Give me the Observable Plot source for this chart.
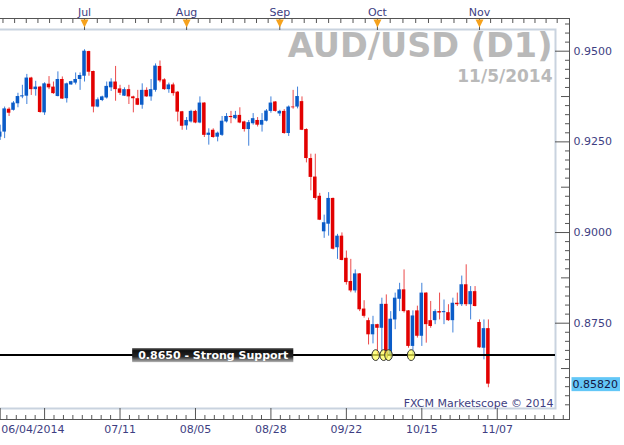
<!DOCTYPE html>
<html><head><meta charset="utf-8">
<script src="https://cdn.jsdelivr.net/npm/d3@7"></script>
<script src="https://cdn.jsdelivr.net/npm/@observablehq/plot@0.6"></script>
<style>html,body{margin:0;padding:0;background:#fff;overflow:hidden}svg{display:block}</style>
</head><body><div id="chart"></div>
<script>
// ---- data (AUD/USD daily) ----
const dates = [
"2014-06-04","2014-06-05","2014-06-06","2014-06-09","2014-06-10","2014-06-11","2014-06-12","2014-06-13","2014-06-16","2014-06-17",
"2014-06-18","2014-06-19","2014-06-20","2014-06-23","2014-06-24","2014-06-25","2014-06-26","2014-06-27","2014-06-30","2014-07-01",
"2014-07-02","2014-07-03","2014-07-04","2014-07-07","2014-07-08","2014-07-09","2014-07-10","2014-07-11","2014-07-14","2014-07-15",
"2014-07-16","2014-07-17","2014-07-18","2014-07-21","2014-07-22","2014-07-23","2014-07-24","2014-07-25","2014-07-28","2014-07-29",
"2014-07-30","2014-07-31","2014-08-01","2014-08-04","2014-08-05","2014-08-06","2014-08-07","2014-08-08","2014-08-11","2014-08-12",
"2014-08-13","2014-08-14","2014-08-15","2014-08-18","2014-08-19","2014-08-20","2014-08-21","2014-08-22","2014-08-25","2014-08-26",
"2014-08-27","2014-08-28","2014-08-29","2014-09-01","2014-09-02","2014-09-03","2014-09-04","2014-09-05","2014-09-08","2014-09-09",
"2014-09-10","2014-09-11","2014-09-12","2014-09-15","2014-09-16","2014-09-17","2014-09-18","2014-09-19","2014-09-22","2014-09-23",
"2014-09-24","2014-09-25","2014-09-26","2014-09-29","2014-09-30","2014-10-01","2014-10-02","2014-10-03","2014-10-06","2014-10-07",
"2014-10-08","2014-10-09","2014-10-10","2014-10-13","2014-10-14","2014-10-15","2014-10-16","2014-10-17","2014-10-20","2014-10-21",
"2014-10-22","2014-10-23","2014-10-24","2014-10-27","2014-10-28","2014-10-29","2014-10-30","2014-10-31","2014-11-03","2014-11-04",
"2014-11-05"];
const open = [
0.9263,0.9277,0.9340,0.9337,0.9355,0.9374,0.9376,0.9426,0.9394,0.9401,
0.9330,0.9409,0.9401,0.9375,0.9422,0.9369,0.9407,0.9412,0.9422,0.9431,
0.9499,0.9444,0.9346,0.9364,0.9371,0.9399,0.9415,0.9396,0.9376,0.9394,
0.9374,0.9369,0.9351,0.9392,0.9374,0.9392,0.9458,0.9421,0.9394,0.9407,
0.9387,0.9333,0.9294,0.9305,0.9334,0.9302,0.9357,0.9268,0.9282,0.9263,
0.9268,0.9305,0.9320,0.9314,0.9323,0.9305,0.9284,0.9300,0.9309,0.9296,
0.9307,0.9334,0.9360,0.9327,0.9334,0.9273,0.9346,0.9346,0.9361,0.9284,
0.9204,0.9153,0.9100,0.9002,0.9023,0.9094,0.8958,0.8990,0.8929,0.8865,
0.8839,0.8886,0.8789,0.8757,0.8718,0.8746,0.8736,0.8802,0.8663,0.8759,
0.8816,0.8842,0.8784,0.8686,0.8784,0.8714,0.8833,0.8757,0.8757,0.8782,
0.8779,0.8779,0.8757,0.8805,0.8801,0.8856,0.8801,0.8837,0.8752,0.8681,
0.8735];
const high = [
0.9296,0.9346,0.9344,0.9361,0.9384,0.9406,0.9436,0.9428,0.9417,0.9403,
0.9413,0.9430,0.9415,0.9443,0.9429,0.9412,0.9417,0.9440,0.9440,0.9504,
0.9500,0.9445,0.9371,0.9376,0.9415,0.9424,0.9458,0.9406,0.9399,0.9406,
0.9376,0.9392,0.9410,0.9399,0.9422,0.9465,0.9473,0.9424,0.9412,0.9412,
0.9389,0.9334,0.9317,0.9337,0.9337,0.9374,0.9358,0.9286,0.9286,0.9277,
0.9320,0.9328,0.9334,0.9334,0.9344,0.9307,0.9309,0.9328,0.9317,0.9328,
0.9339,0.9374,0.9361,0.9337,0.9339,0.9349,0.9392,0.9401,0.9374,0.9286,
0.9216,0.9216,0.9108,0.9048,0.9110,0.9095,0.8995,0.8999,0.8949,0.8926,
0.8897,0.8887,0.8812,0.8764,0.8769,0.8747,0.8819,0.8828,0.8782,0.8833,
0.8860,0.8897,0.8785,0.8784,0.8797,0.8860,0.8834,0.8810,0.8787,0.8833,
0.8814,0.8801,0.8819,0.8833,0.8880,0.8911,0.8851,0.8851,0.8759,0.8759,
0.8759];
const low = [
0.9254,0.9259,0.9320,0.9335,0.9344,0.9369,0.9353,0.9378,0.9376,0.9329,
0.9323,0.9394,0.9381,0.9374,0.9367,0.9357,0.9406,0.9407,0.9392,0.9415,
0.9431,0.9330,0.9344,0.9361,0.9368,0.9389,0.9362,0.9378,0.9375,0.9353,
0.9330,0.9350,0.9340,0.9373,0.9362,0.9387,0.9413,0.9392,0.9384,0.9376,
0.9305,0.9282,0.9282,0.9302,0.9300,0.9300,0.9262,0.9241,0.9260,0.9250,
0.9265,0.9302,0.9300,0.9311,0.9300,0.9277,0.9238,0.9296,0.9291,0.9277,
0.9305,0.9329,0.9332,0.9320,0.9271,0.9265,0.9340,0.9341,0.9281,0.9192,
0.9115,0.9089,0.9033,0.8984,0.8990,0.8952,0.8926,0.8922,0.8855,0.8834,
0.8833,0.8782,0.8764,0.8690,0.8693,0.8663,0.8668,0.8654,0.8649,0.8732,
0.8782,0.8778,0.8681,0.8663,0.8709,0.8686,0.8695,0.8736,0.8746,0.8759,
0.8746,0.8755,0.8723,0.8796,0.8796,0.8796,0.8759,0.8795,0.8681,0.8649,
0.8572];
const close = [
0.9277,0.9341,0.9329,0.9357,0.9375,0.9377,0.9426,0.9394,0.9401,0.9331,
0.9410,0.9399,0.9383,0.9422,0.9368,0.9410,0.9416,0.9422,0.9433,0.9500,
0.9442,0.9346,0.9366,0.9374,0.9403,0.9415,0.9394,0.9384,0.9394,0.9374,
0.9369,0.9351,0.9392,0.9374,0.9394,0.9459,0.9418,0.9394,0.9407,0.9383,
0.9332,0.9293,0.9309,0.9334,0.9302,0.9357,0.9268,0.9274,0.9262,0.9274,
0.9307,0.9320,0.9317,0.9323,0.9302,0.9284,0.9303,0.9314,0.9296,0.9309,
0.9335,0.9357,0.9334,0.9334,0.9273,0.9346,0.9344,0.9375,0.9282,0.9204,
0.9152,0.9094,0.9034,0.9027,0.9094,0.8954,0.8990,0.8923,0.8862,0.8839,
0.8886,0.8787,0.8769,0.8718,0.8746,0.8736,0.8802,0.8659,0.8761,0.8819,
0.8842,0.8782,0.8686,0.8770,0.8714,0.8833,0.8746,0.8741,0.8782,0.8778,
0.8782,0.8757,0.8805,0.8801,0.8856,0.8801,0.8837,0.8796,0.8682,0.8735,
0.8582];

// tick labels
const bottomTickIdx = [0, 10, 27, 44, 61, 78, 95, 112];
const bottomTickLabels = ["06/04/2014", "", "07/11", "08/05", "08/28", "09/22", "10/15", "11/07"];
const monthIdx = [19, 42, 63, 85, 108];
const monthLabels = ["Jul", "Aug", "Sep", "Oct", "Nov"];
const monthBounds = [-2, 19, 42, 63, 85, 108, 128];
const priceTicks = [0.95, 0.925, 0.9, 0.875];
const priceTickLabels = ["0.9500", "0.9250", "0.9000", "0.8750"];
const lastPriceLabel = "0.85820";

// annotations
const supportLevel = 0.8662;
const supportText = "0.8650 - Strong Support";
const supportLabelAt = 48;
const circleAt = [84.6, 86.4, 87.5, 92.6];
const titleText = "AUD/USD (D1)";
const dateText = "11/5/2014";
const creditText = "FXCM Marketscope \u00A9 2014";

// ---- build ----
const bars = dates.map((d, i) => ({i, date: d, open: open[i], high: high[i], low: low[i], close: close[i]}));
const ups = bars.filter(d => d.close >= d.open);
const downs = bars.filter(d => d.close < d.open);
const bw = 0.4;

const axisColor = "#3e3e82";
const lineColor = "#555";
const upColor = "#0b5cc8", downColor = "#e20000";

const r4 = v => Math.round(v * 10000) / 10000;
const allPriceTicks = d3.range(0, 43).map(k => r4(0.8525 + k * 0.0025));
const isMul = (v, s) => Math.abs(v / s - Math.round(v / s)) < 1e-6;
const pMajor = allPriceTicks.filter(v => isMul(v, 0.025));
const pMid = allPriceTicks.filter(v => !isMul(v, 0.025) && isMul(v, 0.0125));
const pMinor = allPriceTicks.filter(v => !isMul(v, 0.0125));

const bottomMinor = d3.range(-4, 56).filter(k => k % 8 !== 0).map(k => 10 + k * 17 / 8);
const topMinor = [];
for (let m = 0; m < monthBounds.length - 1; m++) {
  const a = monthBounds[m], b = monthBounds[m + 1];
  for (let k = 1; k < 8; k++) topMinor.push(a + (b - a) * k / 8);
}

const triDown = {draw(ctx) { ctx.moveTo(-4, -4); ctx.lineTo(4, -4); ctx.lineTo(0, 4); ctx.closePath(); }};
const ellipse = {draw(ctx) {
  const rx = 3.8, ry = 5.4, k = 0.5523;
  ctx.moveTo(rx, 0);
  ctx.bezierCurveTo(rx, ry * k, rx * k, ry, 0, ry);
  ctx.bezierCurveTo(-rx * k, ry, -rx, ry * k, -rx, 0);
  ctx.bezierCurveTo(-rx, -ry * k, -rx * k, -ry, 0, -ry);
  ctx.bezierCurveTo(rx * k, -ry, rx, -ry * k, rx, 0);
  ctx.closePath();
}};

const svg = Plot.plot({
  width: 624, height: 445,
  marginTop: 18, marginBottom: 26, marginLeft: 0, marginRight: 55,
  x: {type: "linear", domain: [0, 112], range: [-0.3, 496.76], axis: null},
  y: {type: "linear", domain: [0.95, 0.875], range: [50.7, 322.7], axis: null},
  style: {fontFamily: "DejaVu Sans", fontSize: "11px", background: "#fff", color: axisColor, overflow: "hidden"},
  marks: [
    Plot.frame({stroke: "#c9d3df", strokeWidth: 2, insetLeft: -5, insetRight: 14, insetTop: 11, insetBottom: 11}),
    Plot.text([titleText], {frameAnchor: "top-right", dx: -17, dy: 38.7, lineAnchor: "bottom", textAnchor: "end", fontSize: 33.5, fontWeight: "bold", fill: "#b9b9b9"}),
    Plot.text([dateText], {frameAnchor: "top-right", dx: -17, dy: 63.7, lineAnchor: "bottom", textAnchor: "end", fontSize: 17, fontWeight: "bold", fill: "#b9b9b9"}),
    Plot.text([creditText], {frameAnchor: "bottom-right", dx: -16, dy: -13, lineAnchor: "bottom", textAnchor: "end", fill: axisColor}),
    // wicks
    Plot.ruleX(ups, {x: "i", y1: "low", y2: "high", stroke: "#3f80da", strokeWidth: 1}),
    Plot.ruleX(downs, {x: "i", y1: "low", y2: "high", stroke: "#ec4a4a", strokeWidth: 1}),
    // bodies
    Plot.rect(ups, {x1: d => d.i - bw, x2: d => d.i + bw, y1: "open", y2: "close", fill: upColor}),
    Plot.rect(downs, {x1: d => d.i - bw, x2: d => d.i + bw, y1: "open", y2: "close", fill: downColor}),
    // support line and label
    Plot.ruleY([supportLevel], {y: d => d, insetRight: 14, stroke: "#000", strokeWidth: 2}),
    Plot.text([supportLevel], {x: () => supportLabelAt, y: d => d, text: () => supportText, fill: "#fff", fontWeight: "bold", fontSize: 11}),
    Plot.dot(circleAt, {x: d => d, y: () => supportLevel, symbol: ellipse, fill: "#ffff55", fillOpacity: 0.7, stroke: "#333", strokeWidth: 1}),
    // axes box
    Plot.frame({stroke: lineColor, strokeWidth: 1, insetLeft: -5}),
    Plot.ruleY(pMinor, {y: d => d, insetLeft: 565, stroke: lineColor}),
    Plot.ruleY(pMid, {y: d => d, insetLeft: 561, stroke: lineColor}),
    Plot.ruleY(pMajor, {y: d => d, insetLeft: 555, stroke: lineColor}),
    Plot.text(priceTicks, {y: d => d, text: (d, i) => priceTickLabels[i], frameAnchor: "right", textAnchor: "start", dx: 4, fill: axisColor}),
    Plot.text([close[close.length - 1]], {y: d => d, text: () => lastPriceLabel, frameAnchor: "right", textAnchor: "start", dx: 3, fill: "#15153f"}),
    Plot.ruleX(bottomMinor, {x: d => d, insetTop: 397, stroke: lineColor}),
    Plot.ruleX(bottomTickIdx, {x: d => d, insetTop: 390, stroke: lineColor}),
    Plot.text(bottomTickIdx.slice(1), {x: d => d, text: (d, i) => bottomTickLabels[i + 1], frameAnchor: "bottom", dy: 13, fill: axisColor}),
    Plot.text(bottomTickIdx.slice(0, 1), {x: d => d, text: () => bottomTickLabels[0], frameAnchor: "bottom", dy: 13, dx: 1, textAnchor: "start", fill: axisColor}),
    Plot.ruleX(topMinor, {x: d => d, insetBottom: 396, stroke: lineColor}),
    Plot.ruleX(monthIdx, {x: d => d, insetBottom: 389, stroke: lineColor}),
    Plot.dot(monthIdx, {x: d => d, frameAnchor: "top", dy: 5, symbol: triDown, fill: "#f6a21c", stroke: "none"}),
    Plot.text(monthIdx, {x: d => d, text: (d, i) => monthLabels[i], frameAnchor: "top", dy: -10, fill: axisColor})
  ]
});
document.getElementById("chart").append(svg);

// label backgrounds sized from the rendered text
const ns = "http://www.w3.org/2000/svg";
const defs = document.createElementNS(ns, "defs");
defs.innerHTML = '<linearGradient id="supGrad" x1="0" y1="0" x2="0" y2="1">' +
  '<stop offset="0" stop-color="#5a5a5a"/><stop offset="0.18" stop-color="#101010"/>' +
  '<stop offset="0.6" stop-color="#242424"/><stop offset="1" stop-color="#b4b4b4"/></linearGradient>';
svg.insertBefore(defs, svg.firstChild);
function boxBehind(content, fill, padL, padR, h) {
  const t = Array.from(svg.querySelectorAll("text")).find(e => e.textContent === content);
  if (!t) return;
  const bb = t.getBBox();
  const r = document.createElementNS(ns, "rect");
  const cy = bb.y + bb.height / 2;
  r.setAttribute("x", bb.x - padL);
  r.setAttribute("y", cy - h / 2);
  r.setAttribute("width", bb.width + padL + padR);
  r.setAttribute("height", h);
  r.setAttribute("fill", fill);
  r.setAttribute("stroke", "none");
  const tr = t.getAttribute("transform");
  if (tr) r.setAttribute("transform", tr);
  t.parentNode.insertBefore(r, t);
}
boxBehind(supportText, "url(#supGrad)", 6, 5, 14);
boxBehind(lastPriceLabel, "#63c7f7", 1, 2, 14);
</script>
</body></html>
